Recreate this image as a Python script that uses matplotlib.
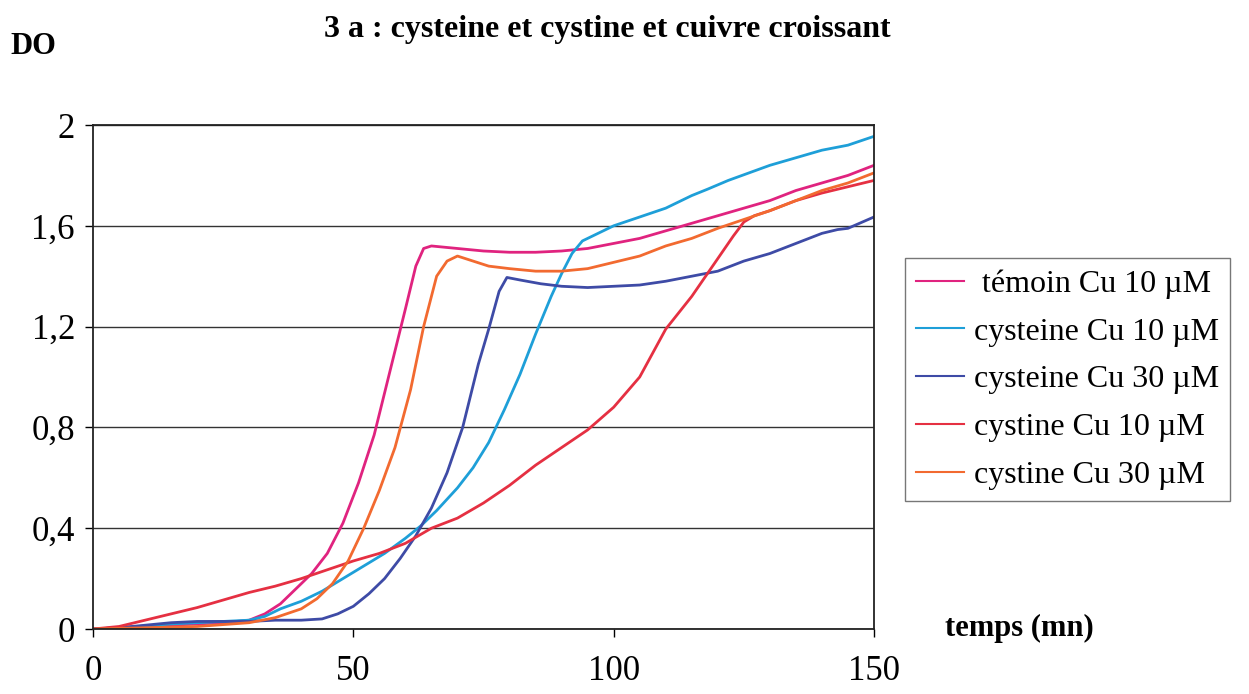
import numpy as np
from matplotlib import pyplot as plt
from matplotlib.ticker import FuncFormatter

plt.rcParams['font.family'] = ['Liberation Serif', 'DejaVu Serif']

# temps (mn) / DO
t_temoin = [0, 5, 10, 15, 20, 25, 30, 33, 36, 39, 42, 45, 48, 51, 54, 57, 60, 62, 63.5, 65,
            70, 75, 80, 85, 90, 95, 100, 105, 110, 115, 120, 125, 130, 135, 140, 145, 150]
do_temoin = [0, 0.005, 0.01, 0.015, 0.02, 0.025, 0.035, 0.06, 0.10, 0.16, 0.22, 0.30, 0.42, 0.58,
             0.77, 1.02, 1.27, 1.44, 1.51, 1.52, 1.51, 1.50, 1.495, 1.495, 1.50, 1.51, 1.53,
             1.55, 1.58, 1.61, 1.64, 1.67, 1.70, 1.74, 1.77, 1.80, 1.84]

t_cys10 = [0, 5, 10, 15, 20, 25, 30, 33, 36, 40, 44, 48, 52, 56, 60, 63, 66, 70, 73, 76, 79,
           82, 85, 88, 90, 92, 94, 97, 100, 105, 110, 113, 115, 118, 122, 126, 130, 135, 140,
           145, 150]
do_cys10 = [0, 0.005, 0.012, 0.02, 0.025, 0.03, 0.035, 0.05, 0.08, 0.11, 0.15, 0.20, 0.25, 0.30,
            0.36, 0.41, 0.47, 0.56, 0.64, 0.74, 0.87, 1.01, 1.17, 1.32, 1.41, 1.49, 1.54, 1.57,
            1.60, 1.635, 1.67, 1.70, 1.72, 1.745, 1.78, 1.81, 1.84, 1.87, 1.90, 1.92, 1.955]

t_cys30 = [0, 5, 10, 15, 20, 25, 30, 35, 40, 44, 47, 50, 53, 56, 59, 62, 65, 68, 71, 74, 76,
           78, 79.5, 82, 86, 90, 95, 100, 105, 110, 115, 120, 125, 130, 135, 140, 143, 145, 150]
do_cys30 = [0, 0.005, 0.015, 0.025, 0.03, 0.03, 0.03, 0.035, 0.035, 0.04, 0.06, 0.09, 0.14, 0.20,
            0.28, 0.37, 0.48, 0.62, 0.80, 1.05, 1.19, 1.34, 1.395, 1.385, 1.37, 1.36, 1.355,
            1.36, 1.365, 1.38, 1.40, 1.42, 1.46, 1.49, 1.53, 1.57, 1.585, 1.59, 1.635]

t_cyst10 = [0, 5, 10, 15, 20, 25, 30, 35, 40, 45, 50, 55, 60, 65, 70, 75, 80, 85, 90, 95, 100,
            105, 110, 115, 118, 120, 123, 125, 127, 130, 135, 140, 145, 150]
do_cyst10 = [0, 0.01, 0.035, 0.06, 0.085, 0.115, 0.145, 0.17, 0.20, 0.235, 0.27, 0.30, 0.34,
             0.40, 0.44, 0.50, 0.57, 0.65, 0.72, 0.79, 0.88, 1.00, 1.19, 1.32, 1.41, 1.47, 1.56,
             1.615, 1.64, 1.66, 1.70, 1.73, 1.755, 1.78]

t_cyst30 = [0, 10, 20, 30, 35, 40, 43, 46, 49, 52, 55, 58, 61, 63.5, 66, 68, 70, 73, 76, 80, 85,
            90, 95, 100, 105, 110, 115, 120, 125, 130, 135, 140, 145, 150]
do_cyst30 = [0, 0.005, 0.01, 0.025, 0.045, 0.08, 0.12, 0.18, 0.27, 0.40, 0.55, 0.72, 0.95, 1.2,
             1.40, 1.46, 1.48, 1.46, 1.44, 1.43, 1.42, 1.42, 1.43, 1.455, 1.48, 1.52, 1.55, 1.59,
             1.625, 1.66, 1.70, 1.74, 1.77, 1.81]

series = [
    (" témoin Cu 10 µM", t_temoin, do_temoin, '#E0237F'),
    ("cysteine Cu 10 µM", t_cys10, do_cys10, '#1E9FD8'),
    ("cysteine Cu 30 µM", t_cys30, do_cys30, '#3E4BA6'),
    ("cystine Cu 10 µM", t_cyst10, do_cyst10, '#E53042'),
    ("cystine Cu 30 µM", t_cyst30, do_cyst30, '#F26A30'),
]

fig = plt.figure(figsize=(12.49, 6.94), dpi=100)
ax = fig.add_axes([93/1249, 1-629/694, (874-93)/1249, (629-125)/694])

for name, t, y, c in series:
    ax.plot(t, y, color=c, lw=2, label=name)

ax.set_xlim(0, 150)
ax.set_ylim(0, 2)
ax.set_xticks([0, 50, 100, 150])
ax.set_yticks([0, 0.4, 0.8, 1.2, 1.6, 2])
ax.yaxis.set_major_formatter(FuncFormatter(lambda v, p: ('%g' % round(v, 1)).replace('.', ',')))
ax.tick_params(axis='x', labelsize=25, pad=13, length=6, width=1)
ax.tick_params(axis='y', labelsize=25, pad=7, length=6, width=1)
ax.grid(axis='y', color='#333333', lw=1)
for s in ax.spines.values():
    s.set_linewidth(1.3)
    s.set_color('#222222')

fig.text(0.486, 0.958, "3 a : cysteine et cystine et cuivre croissant",
         ha='center', va='center', fontsize=23, fontweight='bold')
fig.text(0.008, 0.933, "DO", ha='left', va='center', fontsize=22, fontweight='bold')
fig.text(0.757, 0.094, "temps (mn)", ha='left', va='center', fontsize=22, fontweight='bold')

leg = ax.legend(loc='upper left', bbox_to_anchor=(905/1249, 1-258/694),
                bbox_transform=fig.transFigure, fontsize=23, frameon=True, fancybox=False,
                handlelength=1.5, handletextpad=0.3, labelspacing=0.58,
                borderpad=0.35, borderaxespad=0)
leg.get_frame().set_edgecolor('#555555')
leg.get_frame().set_linewidth(1)
for ln in leg.get_lines():
    ln.set_linewidth(1.5)

fig.savefig("out.png", dpi=100)
